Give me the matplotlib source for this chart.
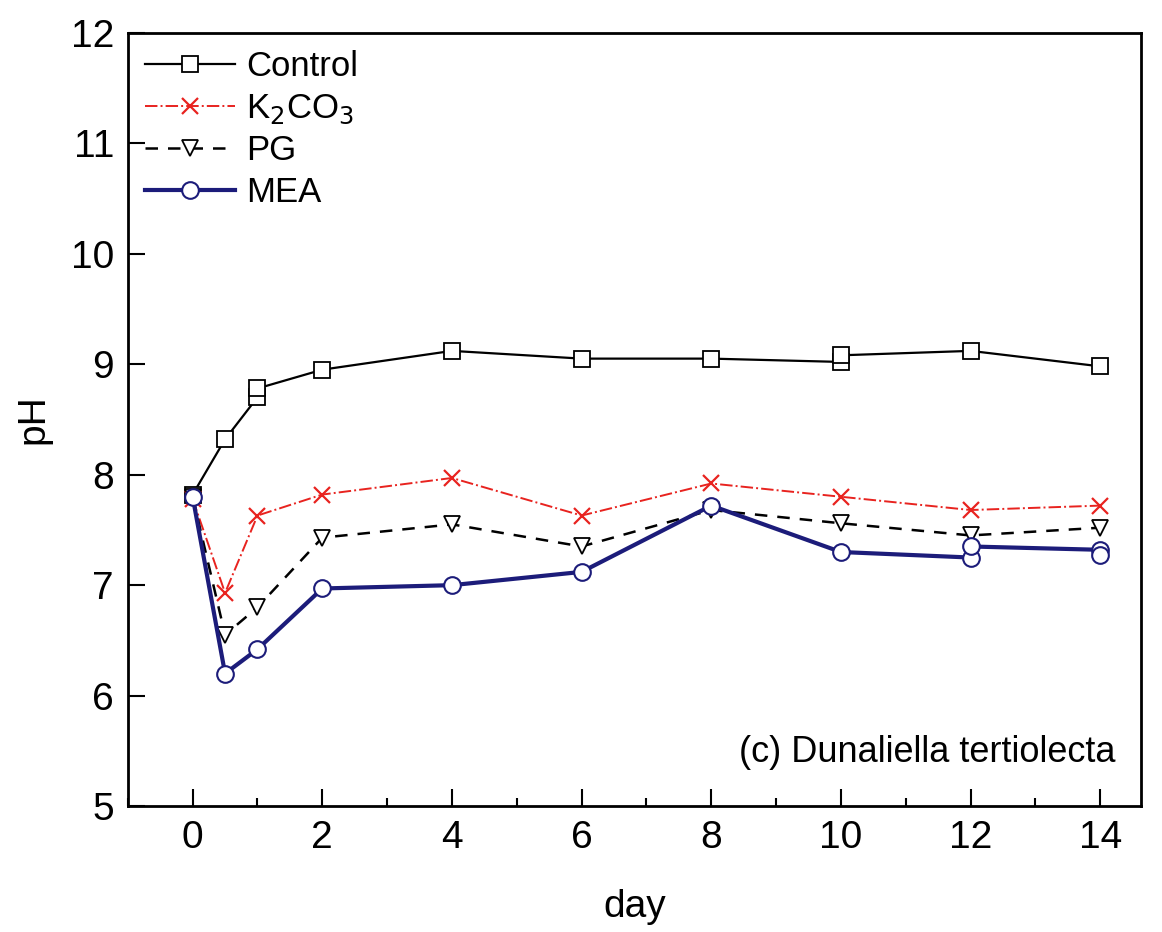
import matplotlib
matplotlib.use("Agg")
import matplotlib.pyplot as plt
from matplotlib.ticker import MultipleLocator

plt.rcParams['font.family'] = ['Liberation Sans', 'DejaVu Sans']

# sampling days (some days have two overlapping readings)
control_days = [0, 0.5, 1, 1, 2, 4, 6, 8, 10, 10, 12, 14]
control_ph = [7.82, 8.32, 8.70, 8.78, 8.95, 9.12, 9.05, 9.05, 9.02, 9.08, 9.12, 8.98]

k2co3_days = [0, 0.5, 1, 2, 4, 6, 8, 10, 12, 14]
k2co3_ph = [7.78, 6.93, 7.63, 7.82, 7.97, 7.63, 7.92, 7.80, 7.68, 7.72]

pg_days = [0, 0.5, 1, 2, 4, 6, 8, 10, 12, 14]
pg_ph = [7.80, 6.55, 6.80, 7.43, 7.55, 7.35, 7.68, 7.56, 7.45, 7.52]

mea_days = [0, 0.5, 1, 2, 4, 6, 8, 10, 12, 12, 14, 14]
mea_ph = [7.80, 6.20, 6.42, 6.97, 7.00, 7.12, 7.72, 7.30, 7.25, 7.35, 7.32, 7.27]

fig = plt.figure(figsize=(11.62, 9.32), dpi=100)
ax = fig.add_axes([0.110, 0.135, 0.872, 0.830])

ax.plot(control_days, control_ph, color='black', lw=1.6, marker='s', ms=11,
        mfc='white', mec='black', mew=1.3, label='Control')
ax.plot(k2co3_days, k2co3_ph, color='#e8231f', lw=1.4, ls='-.', marker='x', ms=11,
        mew=1.6, label='K$_2$CO$_3$')
ax.plot(pg_days, pg_ph, color='black', lw=1.8, ls=(0, (5, 4)), marker='v', ms=12,
        mfc='white', mec='black', mew=1.3, label='PG')
ax.plot(mea_days, mea_ph, color='#1c1c7a', lw=3, marker='o', ms=12,
        mfc='white', mec='#1c1c7a', mew=1.5, label='MEA')

ax.set_xlim(-1, 14.63)
ax.set_ylim(5, 12)
ax.xaxis.set_major_locator(MultipleLocator(2))
ax.xaxis.set_minor_locator(MultipleLocator(1))
ax.yaxis.set_major_locator(MultipleLocator(1))
ax.tick_params(which='major', direction='in', length=12, width=1.5, labelsize=28, pad=10)
ax.tick_params(which='minor', direction='in', length=6, width=1.5)
for s in ax.spines.values():
    s.set_linewidth(2)

ax.set_xlabel('day', fontsize=28, labelpad=24)
ax.set_ylabel('pH', fontsize=28, labelpad=14)

ax.text(0.975, 0.07, '(c) Dunaliella tertiolecta', transform=ax.transAxes,
        ha='right', va='center', fontsize=26)

ax.legend(loc='upper left', frameon=False, fontsize=25, handlelength=2.6,
          handletextpad=0.3, labelspacing=0.25, borderaxespad=0.1,
          bbox_to_anchor=(0.0, 1.0))

fig.savefig('out.png', dpi=100)
